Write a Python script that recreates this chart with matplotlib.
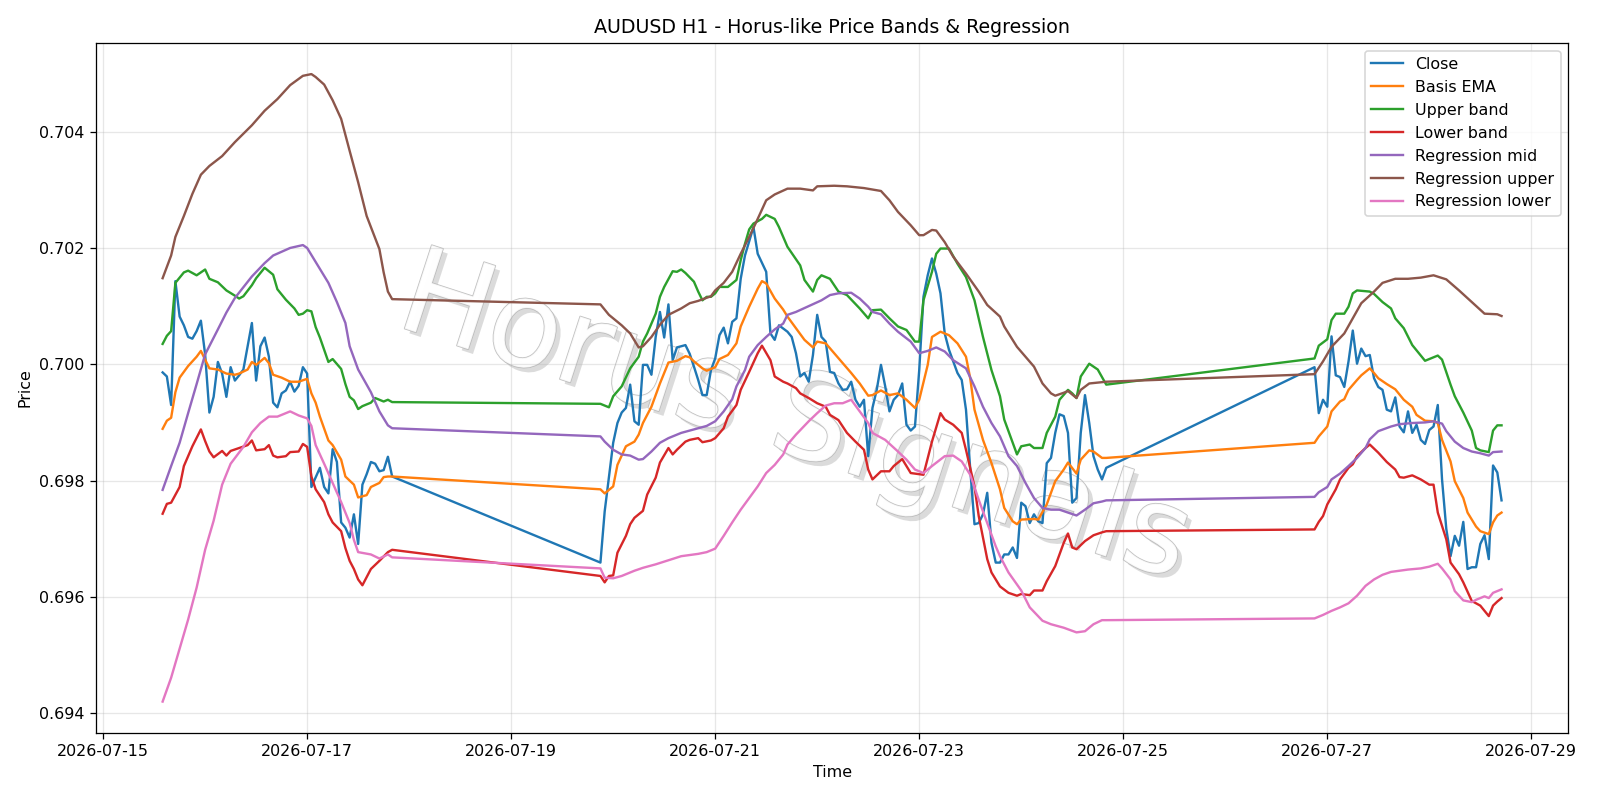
import numpy as np
import pandas as pd
import matplotlib
matplotlib.use("Agg")
import matplotlib.pyplot as plt
import matplotlib.patheffects as pe

BASE = pd.Timestamp("2026-07-15 00:00")

# ---- data: hour offsets from 2026-07-15 00:00 and prices ----
close_h = [14, 15, 16, 17, 18, 19, 20, 21, 22, 23, 24, 25, 26, 27, 28, 29, 30, 31, 32, 33,
           34, 35, 36, 37, 38, 39, 40, 41, 42, 43, 44, 45, 46, 47, 48, 49, 51, 52, 53, 54,
           55, 56, 57, 58, 59, 60, 61, 62, 63, 64, 65, 66, 67, 68,
           117, 118, 120, 121, 122, 123, 124, 125, 126, 127, 128, 129, 130, 131, 132, 133,
           134, 135, 137, 138, 139, 140, 141, 142, 143, 144, 145, 146, 147, 148, 149, 150,
           151, 153, 154, 156, 157, 158, 159, 161, 162, 163, 164, 165, 166, 167, 168, 169,
           170, 171, 172, 173, 174, 175, 176, 177, 178, 179, 180, 181, 182, 183, 184, 185,
           186, 187, 188, 189, 190, 191, 192, 193, 194, 195, 196, 197, 198, 199, 200, 201,
           202, 203, 204, 205, 206, 207, 208, 209, 210, 211, 212, 213, 214, 215, 216, 217,
           218, 219, 220, 221, 222, 223, 224, 225, 226, 227, 228, 229, 230, 231, 232, 233,
           234, 235, 236,
           285, 286, 287, 288, 289, 290, 291, 292, 293, 294, 295, 296, 297, 298, 299, 300,
           301, 302, 303, 304, 305, 306, 307, 308, 309, 310, 311, 312, 313, 314, 315, 316,
           317, 318, 319, 320, 321, 322, 323, 324, 325, 326, 327, 328, 329]
close_v = [.69986, .69979, .69930, .70143, .70082, .70067, .70047, .70044, .70057, .70075,
           .70017, .69917, .69944, .70004, .69984, .69944, .69995, .69972, .69981, .69991,
           .70031, .70071, .69972, .70031, .70046, .70013, .69934, .69926, .69950, .69955,
           .69970, .69953, .69963, .69995, .69984, .69789, .69822, .69789, .69778, .69854,
           .69832, .69728, .69719, .69702, .69742, .69691, .69793, .69811, .69832, .69829,
           .69816, .69818, .69841, .69807,
           .69659, .69747, .69865, .69899, .69917, .69925, .69965, .69902, .69896, .69999,
           .69999, .69982, .70047, .70090, .70046, .70103, .70007, .70029, .70033, .70018,
           .69996, .69973, .69947, .69947, .69990, .70010, .70050, .70063, .70036, .70073,
           .70079, .70147, .70187, .70236, .70190, .70159, .70053, .70042, .70067, .70056,
           .70047, .70019, .69979, .69985, .69970, .70016, .70085, .70047, .70039, .69987,
           .69985, .69967, .69956, .69957, .69970, .69939, .69927, .69939, .69842, .69925,
           .69956, .69999, .69962, .69919, .69939, .69947, .69967, .69896, .69886, .69893,
           .69990, .70116, .70153, .70182, .70156, .70122, .70053, .70025, .70005, .69985,
           .69973, .69922, .69820, .69725, .69727, .69742, .69779, .69693, .69659, .69659,
           .69673, .69673, .69685, .69667, .69762, .69756, .69727, .69742, .69730, .69727,
           .69830, .69839, .69882, .69914, .69911, .69882, .69762, .69770, .69882, .69947,
           .69899, .69842, .69819, .69802, .69822,
           .69995, .69916, .69939, .69927, .70048, .69981, .69978, .69961, .70005, .70058,
           .70001, .70027, .70014, .70016, .69976, .69961, .69956, .69922, .69919, .69943,
           .69893, .69883, .69919, .69882, .69896, .69870, .69863, .69887, .69893, .69930,
           .69802, .69717, .69670, .69705, .69688, .69729, .69648, .69651, .69651, .69691,
           .69706, .69665, .69826, .69814, .69766]

ema_h = [14, 15, 16, 17, 18, 20, 22, 23, 24, 25, 27, 29, 31, 32, 34, 35, 36, 38, 39, 40,
         42, 44, 46, 48, 49, 50, 51, 53, 54, 56, 57, 59, 60, 62, 63, 65, 66, 67, 68,
         117, 118, 120, 121, 123, 125, 126, 127, 129, 131, 132, 133, 135, 137, 138, 139,
         141, 142, 144, 145, 147, 149, 150, 152, 154, 155, 156, 158, 160, 161, 163, 165,
         167, 168, 170, 172, 174, 176, 178, 180, 181, 183, 185, 187, 189, 191, 192, 194,
         195, 197, 199, 201, 203, 204, 205, 207, 209, 211, 212, 214, 215, 216, 219, 220,
         222, 224, 226, 227, 229, 230, 232, 233, 235, 236,
         285, 286, 288, 289, 291, 292, 293, 295, 296, 298, 299, 300, 302, 304, 306, 308,
         309, 311, 313, 314, 315, 317, 318, 320, 321, 323, 324, 326, 327, 328, 329]
ema_v = [.69889, .69903, .69908, .69952, .69977, .69997, .70013, .70023, .70008, .69993,
         .69991, .69984, .69982, .69984, .69991, .70004, .69999, .70011, .70002, .69982,
         .69977, .69970, .69970, .69975, .69950, .69934, .69910, .69869, .69861, .69836,
         .69807, .69793, .69771, .69775, .69789, .69796, .69806, .69807, .69807,
         .69785, .69778, .69790, .69827, .69859, .69867, .69879, .69899, .69927, .69967,
         .69985, .70003, .70006, .70014, .70012, .70005, .69993, .69989, .69995, .70009,
         .70016, .70036, .70065, .70099, .70130, .70143, .70139, .70113, .70094, .70082,
         .70062, .70042, .70029, .70039, .70036, .70019, .70002, .69985, .69967, .69946,
         .69947, .69955, .69947, .69950, .69939, .69925, .69939, .69999, .70047, .70056,
         .70050, .70036, .70013, .69976, .69922, .69870, .69830, .69785, .69753, .69730,
         .69725, .69733, .69734, .69733, .69759, .69799, .69819, .69831, .69812, .69836,
         .69852, .69850, .69839, .69839,
         .69865, .69876, .69893, .69919, .69936, .69940, .69956, .69973, .69981, .69993,
         .69985, .69976, .69966, .69957, .69939, .69927, .69913, .69903, .69902, .69899,
         .69870, .69833, .69799, .69770, .69745, .69721, .69713, .69708, .69728, .69740,
         .69745]

upper_h = [14, 15, 16, 17, 19, 20, 22, 24, 25, 27, 29, 31, 32, 33, 35, 36, 38, 40, 41, 43,
           45, 46, 47, 48, 49, 50, 51, 53, 54, 56, 57, 58, 59, 60, 61, 63, 64, 65, 66, 67, 68,
           117, 119, 120, 122, 124, 126, 127, 128, 130, 131, 132, 134, 135, 136, 137, 139,
           140, 141, 142, 143, 144, 145, 147, 148, 149, 150, 151, 152, 153, 155, 156, 158,
           159, 161, 164, 165, 167, 168, 169, 171, 173, 175, 178, 180, 181, 183, 185, 187,
           189, 191, 192, 193, 195, 196, 197, 199, 201, 203, 205, 207, 209, 211, 212, 215,
           216, 218, 219, 221, 222, 224, 225, 227, 228, 229, 230, 232, 234, 236,
           285, 286, 288, 289, 290, 292, 293, 294, 295, 298, 299, 301, 303, 304, 306, 308,
           311, 313, 314, 315, 317, 318, 320, 322, 323, 324, 326, 327, 328, 329]
upper_v = [.70035, .70049, .70057, .70140, .70158, .70161, .70153, .70163, .70147, .70141,
           .70127, .70118, .70113, .70117, .70136, .70148, .70166, .70154, .70129, .70111,
           .70096, .70085, .70087, .70093, .70091, .70064, .70046, .70004, .70009, .69992,
           .69966, .69944, .69938, .69923, .69928, .69934, .69942, .69939, .69936, .69939,
           .69935,
           .69932, .69926, .69945, .69962, .69993, .70013, .70039, .70053, .70087, .70116,
           .70133, .70160, .70159, .70163, .70157, .70142, .70125, .70110, .70116, .70116,
           .70122, .70133, .70133, .70139, .70145, .70179, .70207, .70232, .70242, .70250,
           .70257, .70250, .70236, .70202, .70170, .70145, .70125, .70145, .70153, .70147,
           .70125, .70119, .70096, .70079, .70093, .70094, .70079, .70065, .70059, .70039,
           .70039, .70110, .70159, .70190, .70199, .70199, .70173, .70150, .70110, .70047,
           .69990, .69945, .69905, .69845, .69859, .69862, .69856, .69856, .69882, .69910,
           .69939, .69956, .69950, .69942, .69979, .70001, .69991, .69965,
           .70010, .70032, .70043, .70076, .70087, .70087, .70099, .70122, .70127, .70125,
           .70121, .70107, .70096, .70079, .70062, .70033, .70006, .70012, .70015, .70008,
           .69965, .69945, .69917, .69886, .69856, .69852, .69849, .69886, .69895, .69895]

lower_h = [14, 15, 16, 18, 19, 21, 23, 24, 25, 26, 28, 29, 30, 32, 34, 35, 36, 38, 39, 40,
           41, 43, 44, 46, 47, 48, 49, 50, 52, 53, 54, 56, 57, 58, 59, 60, 61, 62, 63, 65,
           67, 68,
           117, 118, 119, 120, 121, 123, 124, 125, 127, 128, 130, 131, 133, 134, 135, 137,
           138, 140, 141, 143, 144, 146, 147, 149, 150, 152, 154, 155, 157, 158, 160, 161,
           163, 164, 166, 168, 170, 171, 173, 175, 177, 179, 180, 181, 183, 185, 186, 188,
           189, 190, 193, 195, 197, 198, 200, 202, 203, 205, 206, 208, 209, 211, 213, 215,
           216, 218, 219, 221, 222, 224, 226, 227, 228, 229, 231, 233, 235, 236,
           285, 286, 287, 288, 290, 291, 293, 294, 295, 297, 298, 299, 300, 302, 304, 305,
           306, 308, 310, 312, 313, 314, 316, 317, 319, 320, 322, 324, 326, 327, 328, 329]
lower_v = [.69743, .69760, .69762, .69789, .69825, .69859, .69888, .69868, .69850, .69840,
           .69851, .69843, .69851, .69856, .69861, .69869, .69852, .69854, .69861, .69843,
           .69840, .69842, .69849, .69850, .69863, .69858, .69807, .69785, .69763, .69742,
           .69728, .69713, .69684, .69662, .69648, .69630, .69620, .69634, .69648, .69662,
           .69677, .69681,
           .69636, .69625, .69636, .69637, .69676, .69705, .69725, .69736, .69748, .69776,
           .69805, .69831, .69856, .69845, .69853, .69867, .69870, .69873, .69866, .69869,
           .69873, .69890, .69910, .69930, .69956, .69987, .70019, .70032, .70007, .69979,
           .69970, .69967, .69959, .69950, .69942, .69933, .69927, .69913, .69904, .69882,
           .69867, .69853, .69819, .69802, .69816, .69816, .69825, .69837, .69825, .69813,
           .69810, .69867, .69916, .69905, .69896, .69882, .69853, .69790, .69739, .69665,
           .69642, .69618, .69607, .69602, .69605, .69603, .69611, .69611, .69627, .69653,
           .69693, .69709, .69685, .69682, .69696, .69706, .69711, .69713,
           .69716, .69729, .69739, .69759, .69785, .69802, .69822, .69828, .69842, .69856,
           .69862, .69855, .69848, .69832, .69819, .69806, .69805, .69809, .69802, .69793,
           .69793, .69745, .69699, .69659, .69639, .69625, .69593, .69585, .69567, .69585,
           .69592, .69598]

rmid_h = [14, 16, 18, 20, 22, 24, 27, 29, 31, 35, 38, 40, 44, 47, 48, 50, 53, 55, 57, 58,
          60, 63, 65, 67, 68,
          117, 118, 120, 122, 124, 126, 127, 129, 131, 133, 136, 138, 140, 142, 144, 146,
          148, 149, 151, 152, 154, 156, 158, 160, 161, 163, 166, 169, 171, 173, 176, 178,
          180, 181, 183, 185, 187, 190, 192, 194, 196, 198, 200, 203, 205, 207, 209, 211,
          213, 215, 217, 219, 221, 223, 225, 227, 229, 231, 233, 235, 236,
          285, 286, 288, 289, 291, 293, 295, 297, 298, 300, 303, 305, 308, 311, 313, 315,
          316, 318, 320, 322, 324, 326, 327, 329]
rmid_v = [.69784, .69825, .69865, .69916, .69966, .70017, .70060, .70089, .70114, .70151,
          .70174, .70187, .70200, .70205, .70200, .70176, .70140, .70107, .70071, .70031,
          .69991, .69952, .69919, .69895, .69890,
          .69876, .69867, .69853, .69845, .69843, .69836, .69837, .69850, .69865, .69873,
          .69882, .69886, .69890, .69894, .69902, .69919, .69940, .69962, .69990, .70013,
          .70033, .70047, .70060, .70070, .70085, .70090, .70100, .70110, .70119, .70122,
          .70123, .70113, .70099, .70090, .70086, .70070, .70056, .70039, .70019, .70023,
          .70029, .70022, .70007, .69993, .69962, .69927, .69899, .69876, .69842, .69825,
          .69796, .69770, .69753, .69750, .69750, .69745, .69740, .69750, .69761, .69764,
          .69766,
          .69772, .69780, .69789, .69802, .69812, .69825, .69839, .69856, .69871, .69885,
          .69893, .69897, .69899, .69900, .69902, .69898, .69885, .69867, .69856, .69850,
          .69847, .69843, .69849, .69850]

rup_h = [14, 16, 17, 19, 21, 23, 25, 28, 31, 35, 38, 41, 44, 47, 49, 50, 52, 54, 56, 58,
         60, 62, 65, 66, 67, 68,
         117, 119, 122, 124, 126, 127, 129, 131, 133, 136, 138, 140, 143, 144, 146, 148,
         150, 152, 154, 156, 158, 161, 164, 167, 168, 172, 175, 179, 183, 185, 187, 190,
         192, 193, 195, 196, 198, 200, 203, 206, 208, 211, 212, 215, 219, 221, 223, 224,
         226, 227, 229, 230, 232, 236,
         285, 287, 289, 292, 294, 296, 299, 301, 304, 307, 310, 313, 316, 319, 322, 325,
         328, 329]
rup_v = [.70148, .70187, .70219, .70255, .70293, .70326, .70341, .70358, .70382, .70411,
         .70436, .70456, .70480, .70496, .70499, .70494, .70481, .70454, .70422, .70367,
         .70313, .70255, .70198, .70158, .70125, .70112,
         .70103, .70085, .70067, .70053, .70029, .70031, .70047, .70068, .70085, .70096,
         .70105, .70109, .70117, .70127, .70140, .70159, .70190, .70219, .70250, .70282,
         .70292, .70302, .70302, .70299, .70306, .70307, .70306, .70303, .70298, .70282,
         .70262, .70239, .70222, .70222, .70231, .70230, .70210, .70185, .70156, .70125,
         .70102, .70082, .70065, .70030, .69996, .69967, .69950, .69946, .69951, .69954,
         .69942, .69956, .69967, .69970,
         .69983, .70005, .70030, .70053, .70079, .70105, .70125, .70140, .70147, .70147,
         .70149, .70153, .70146, .70127, .70107, .70087, .70086, .70083]

rlow_h = [14, 16, 18, 20, 22, 24, 26, 28, 30, 33, 35, 37, 39, 41, 44, 46, 48, 49, 50, 52,
          54, 56, 58, 59, 60, 63, 65, 67, 68,
          117, 118, 120, 122, 125, 127, 130, 133, 136, 140, 142, 144, 146, 148, 150, 152,
          154, 156, 158, 160, 161, 163, 166, 168, 170, 172, 174, 176, 178, 180, 181, 184,
          187, 189, 191, 193, 195, 198, 200, 202, 204, 206, 208, 210, 211, 213, 216, 218,
          221, 223, 226, 229, 231, 233, 235, 236,
          285, 287, 289, 291, 293, 295, 297, 299, 301, 303, 305, 307, 310, 312, 314, 315,
          317, 318, 320, 322, 323, 325, 326, 327, 329]
rlow_v = [.69420, .69461, .69511, .69561, .69616, .69681, .69731, .69793, .69829, .69858,
          .69883, .69899, .69910, .69910, .69919, .69912, .69907, .69894, .69861, .69829,
          .69796, .69763, .69727, .69698, .69677, .69673, .69666, .69673, .69668,
          .69649, .69633, .69632, .69636, .69645, .69650, .69656, .69663, .69670, .69674,
          .69677, .69683, .69705, .69728, .69750, .69770, .69790, .69813, .69827, .69845,
          .69862, .69879, .69902, .69916, .69929, .69933, .69933, .69939, .69919, .69899,
          .69882, .69870, .69850, .69836, .69819, .69813, .69825, .69842, .69843, .69833,
          .69810, .69767, .69727, .69687, .69670, .69642, .69611, .69582, .69559, .69553,
          .69547, .69539, .69541, .69553, .69560, .69560,
          .69563, .69569, .69576, .69582, .69589, .69602, .69619, .69630, .69638, .69643,
          .69645, .69647, .69649, .69652, .69657, .69649, .69630, .69610, .69594, .69591,
          .69595, .69601, .69598, .69607, .69613]

series = [
    ("Close", close_h, close_v, "#1f77b4"),
    ("Basis EMA", ema_h, ema_v, "#ff7f0e"),
    ("Upper band", upper_h, upper_v, "#2ca02c"),
    ("Lower band", lower_h, lower_v, "#d62728"),
    ("Regression mid", rmid_h, rmid_v, "#9467bd"),
    ("Regression upper", rup_h, rup_v, "#8c564b"),
    ("Regression lower", rlow_h, rlow_v, "#e377c2"),
]


def to_time(hours):
    return BASE + pd.to_timedelta(np.asarray(hours, dtype=float), unit="h")


DPI = 114
fig, ax = plt.subplots(figsize=(1600 / DPI + 1e-4, 800 / DPI + 1e-4), dpi=DPI)
for label, hh, vv, col in series:
    ax.plot(to_time(hh), vv, label=label, color=col, linewidth=1.5, zorder=3)

ax.set_title("AUDUSD H1 - Horus-like Price Bands & Regression")
ax.set_xlabel("Time")
ax.set_ylabel("Price")
ax.grid(True, alpha=0.3)
ax.legend(loc="upper right")

ax.text(0.497, 0.474, "Horus Signals", transform=fig.transFigure, fontsize=76,
        color="white", alpha=0.85, rotation=-18, ha="center", va="center", zorder=1,
        path_effects=[pe.SimplePatchShadow(offset=(3, -3), shadow_rgbFace="#8a8a8a", alpha=0.3),
                      pe.withStroke(linewidth=1.0, foreground="#b5b5b5")])

fig.subplots_adjust(left=0.0598, right=0.9803, bottom=0.0838, top=0.9466)
fig.savefig("out.png", dpi=DPI)
